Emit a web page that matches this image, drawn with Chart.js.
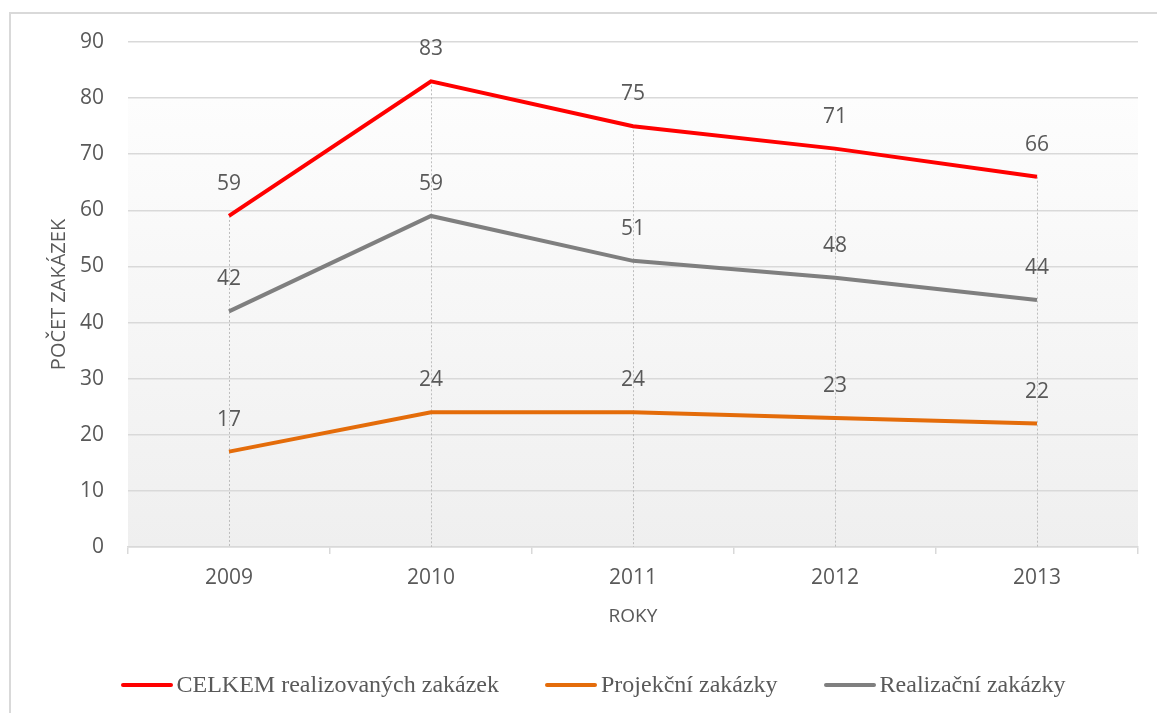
<!DOCTYPE html>
<html>
<head>
<meta charset="utf-8">
<script src="https://cdn.jsdelivr.net/npm/chart.js@4/dist/chart.umd.min.js"></script>
<style>
  body { margin: 0; background: #fff; overflow: hidden; }
  #wrap { position: relative; width: 1157px; height: 713px; }
  #frame {
    position: absolute; left: 9px; top: 12px; width: 1200px; height: 760px;
    border: 2px solid #d9d9d9; box-sizing: border-box;
  }
  #chart { position: absolute; left: 0; top: 0; }
  #legend {
    position: absolute; left: 0; top: 671px; width: 1186px;
    display: flex; justify-content: center; align-items: center;
    font-family: "Liberation Serif", "Times New Roman", serif; font-size: 24px; color: #595959;
  }
  #legend .item { display: flex; align-items: center; margin: 0 23px; }
  #legend .swatch { width: 52px; height: 4px; margin-right: 4px; border-radius: 2px; }
</style>
</head>
<body>
<div id="wrap">
  <div id="frame"></div>
  <canvas id="chart" width="1157" height="713"></canvas>
  <div id="legend"></div>
</div>
<script>
let years = ["2009", "2010", "2011", "2012", "2013"];
let celkem = [59, 83, 75, 71, 66];
let projekcni = [17, 24, 24, 23, 22];
let realizacni = [42, 59, 51, 48, 44];

let seriesNames = ["CELKEM realizovaných zakázek", "Projekční zakázky", "Realizační zakázky"];
let seriesColors = ["#ff0000", "#e46c0a", "#7f7f7f"];

let textColor = "#595959";
let gridColor = "#d9d9d9";

// plot background: white on top fading to light grey at the bottom
const plotBackground = {
  id: "plotBackground",
  beforeDraw(chart) {
    let { ctx, chartArea } = chart;
    let y = chart.scales.y;
    let y80 = y.getPixelForValue(80);
    let grad = ctx.createLinearGradient(0, y80, 0, chartArea.bottom);
    grad.addColorStop(0, "#fdfdfd");
    grad.addColorStop(1, "#efefef");
    ctx.save();
    ctx.fillStyle = grad;
    ctx.fillRect(chartArea.left, y80, chartArea.right - chartArea.left, chartArea.bottom - y80);
    ctx.restore();
  },
};

// dotted drop lines from the highest point down to the axis
const dropLines = {
  id: "dropLines",
  beforeDatasetsDraw(chart) {
    let { ctx, chartArea } = chart;
    let metas = chart.data.datasets.map((d, i) => chart.getDatasetMeta(i));
    ctx.save();
    ctx.strokeStyle = "#bdbdbd";
    ctx.lineWidth = 1;
    ctx.setLineDash([2, 2]);
    for (let i = 0; i < years.length; i++) {
      let top = Math.min(...metas.map((m) => m.data[i].y));
      let x = Math.round(metas[0].data[i].x) + 0.5;
      ctx.beginPath();
      ctx.moveTo(x, top);
      ctx.lineTo(x, chartArea.bottom);
      ctx.stroke();
    }
    ctx.restore();
  },
};

// value labels above each point
const valueLabels = {
  id: "valueLabels",
  afterDatasetsDraw(chart) {
    let { ctx } = chart;
    ctx.save();
    ctx.font = '21px "Open Sans"';
    ctx.fillStyle = textColor;
    ctx.textAlign = "center";
    ctx.textBaseline = "middle";
    chart.data.datasets.forEach((ds, i) => {
      let meta = chart.getDatasetMeta(i);
      meta.data.forEach((pt, j) => {
        ctx.fillText(String(ds.data[j]), pt.x, pt.y - 32);
      });
    });
    ctx.restore();
  },
};

let datasets = [celkem, projekcni, realizacni].map((values, i) => ({
  label: seriesNames[i],
  data: values,
  borderColor: seriesColors[i],
  backgroundColor: seriesColors[i],
  borderWidth: 4,
  pointRadius: 0,
  tension: 0,
}));

let chart = new Chart(document.getElementById("chart"), {
  type: "line",
  data: { labels: years, datasets: datasets },
  plugins: [plotBackground, dropLines, valueLabels],
  options: {
    responsive: false,
    animation: false,
    layout: { padding: { left: 0, top: 42, right: 19, bottom: 81 } },
    plugins: {
      legend: { display: false },
      tooltip: { enabled: false },
    },
    scales: {
      x: {
        offset: true,
        afterFit: (scale) => { scale.height = 85; },
        grid: {
          offset: true,
          drawOnChartArea: false,
          drawTicks: true,
          tickLength: 7,
          color: gridColor,
          lineWidth: 1.5,
        },
        border: { display: true, color: gridColor, width: 1.5 },
        ticks: { color: textColor, font: { family: "Open Sans", size: 21 }, padding: 11 },
        title: {
          display: true,
          text: "ROKY",
          color: textColor,
          font: { family: "Open Sans", size: 19 },
          padding: { top: 0, bottom: 4 },
        },
      },
      y: {
        min: 0,
        max: 90,
        afterFit: (scale) => { scale.width = 128; },
        ticks: { stepSize: 10, color: textColor, font: { family: "Open Sans", size: 21 }, padding: 24 },
        grid: { color: gridColor, lineWidth: 1.5, drawTicks: false },
        border: { display: false },
        title: {
          display: true,
          text: "POČET ZAKÁZEK",
          color: textColor,
          font: { family: "Open Sans", size: 20 },
          padding: { top: 47, bottom: 0 },
        },
      },
    },
  },
});

// legend below the chart
let legend = document.getElementById("legend");
chart.data.datasets.forEach((ds) => {
  let item = document.createElement("div");
  item.className = "item";
  let swatch = document.createElement("span");
  swatch.className = "swatch";
  swatch.style.background = ds.borderColor;
  let label = document.createElement("span");
  label.textContent = ds.label;
  item.appendChild(swatch);
  item.appendChild(label);
  legend.appendChild(item);
});
</script>
</body>
</html>
